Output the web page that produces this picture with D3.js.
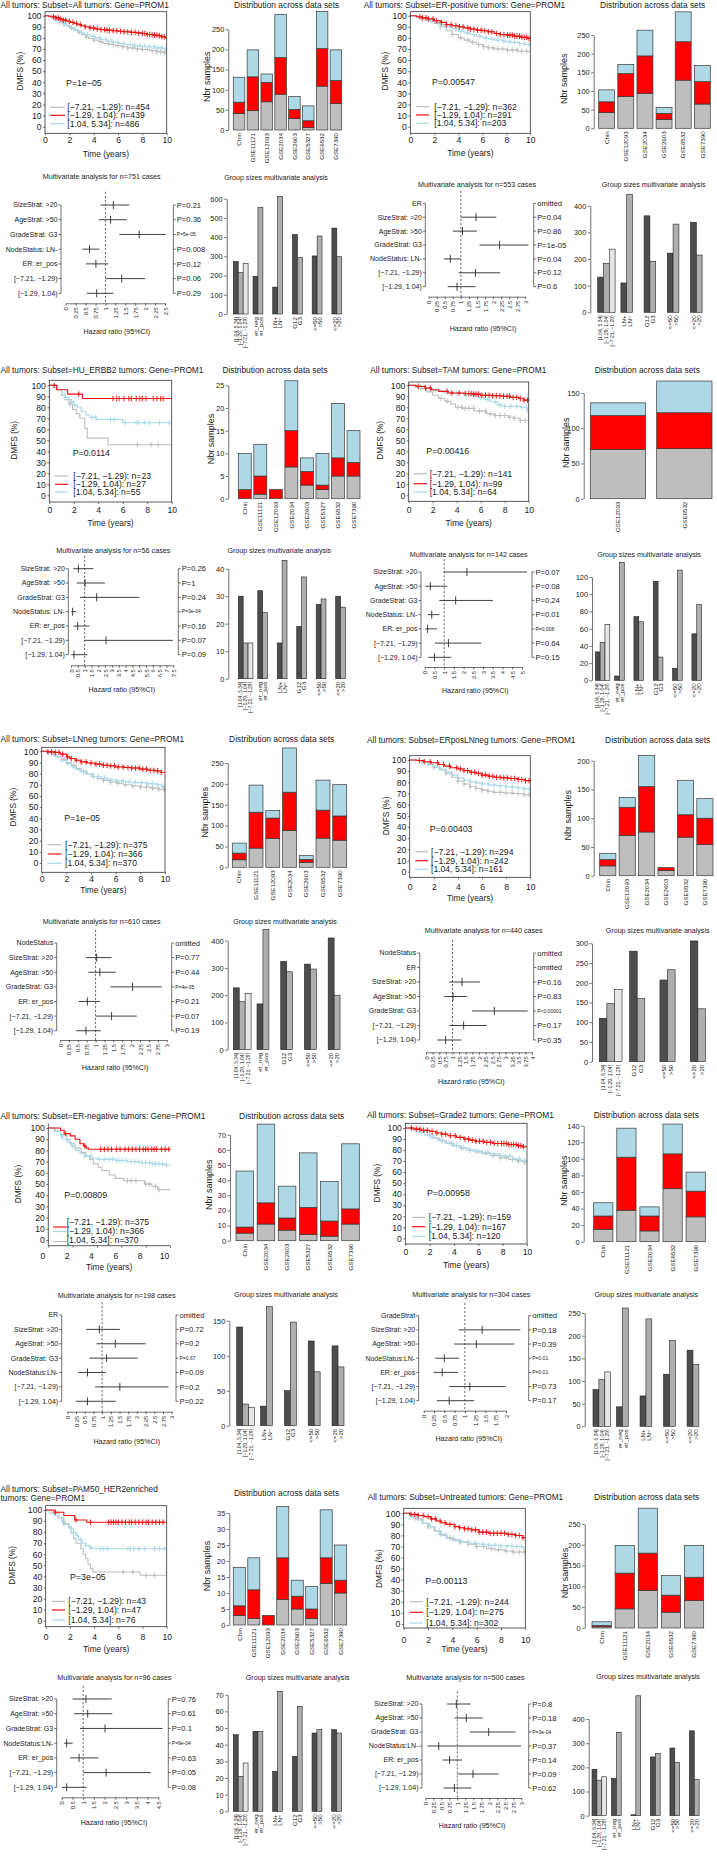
<!DOCTYPE html>
<html><head><meta charset="utf-8">
<script src="https://cdn.jsdelivr.net/npm/d3@7"></script>
<style>
body{margin:0;background:#fff}
svg{display:block}
text{font-family:"Liberation Sans",Arial,Helvetica,sans-serif;fill:#1a1a1a}
</style></head>
<body><svg id="c" width="717" height="1858"></svg>
<script>
// ================= DATA =================
const kmTitles = [
 "All tumors: Subset=All tumors: Gene=PROM1",
 "All tumors: Subset=ER-positive tumors: Gene=PROM1",
 "All tumors: Subset=HU_ERBB2 tumors: Gene=PROM1",
 "All tumors: Subset=TAM tumors: Gene=PROM1",
 "All tumors: Subset=LNneg tumors: Gene=PROM1",
 "All tumors: Subset=ERposLNneg tumors: Gene=PROM1",
 "All tumors: Subset=ER-negative tumors: Gene=PROM1",
 "All tumors: Subset=Grade2 tumors: Gene=PROM1",
 "All tumors: Subset=PAM50_HER2enriched\ntumors: Gene=PROM1",
 "All tumors: Subset=Untreated tumors: Gene=PROM1"
];
const kmPValues = ["P=1e\u221205","P=0.00547","P=0.0114","P=0.00416","P=1e\u221205","P=0.00403","P=0.00809","P=0.00958","P=3e\u221205","P=0.00113"];
const groupNames = ["[\u22127.21, \u22121.29)","[\u22121.29, 1.04)","[1.04, 5.34]"];
const kmN = [[454,439,486],[362,291,203],[23,27,55],[141,99,64],[375,366,370],[294,242,161],[375,366,370],[159,167,120],[43,47,76],[244,275,302]];

const kmGrey = [
 [[0,100],[0.3,99],[0.6,98],[0.9,96.5],[1.2,95],[1.5,93],[1.8,91],[2.1,89],[2.4,87],[2.7,85],[3.0,83],[3.3,81],[3.6,79.5],[4.0,78],[4.4,76.5],[4.8,75],[5.3,74],[5.8,73],[6.3,72],[6.8,71],[7.4,70],[8.0,69.5],[8.6,68.5],[9.2,67.5],[9.8,66.5]],
 [[0,100],[0.5,98.5],[1,97],[1.5,95],[2,93],[2.5,90],[3,86.5],[3.5,83],[4,80],[4.5,78],[5,76],[5.5,74],[6,72],[6.5,71],[7,70],[8,69],[9,68],[9.8,67.5]],
 [[0,100],[0.7,96],[1.0,91],[1.3,87],[1.6,83],[1.9,78],[2.2,74],[2.5,70],[2.9,61],[3.1,52],[4.8,46]],
 [[0,100],[0.6,98.5],[1.0,97],[1.5,94],[2.0,91],[2.5,88],[3.0,85.5],[3.5,83],[3.9,80],[4.5,79],[5.5,76.5],[6.5,74],[7.2,72.5],[8.3,71],[8.8,70],[9.3,68]],
 [[0,100],[0.4,99],[0.8,97.5],[1.2,95.5],[1.6,93],[2.0,90],[2.4,87.5],[2.8,84.5],[3.2,82],[3.6,79.5],[4.0,77.5],[4.5,75.5],[5.0,74],[5.5,72.5],[6.0,71.5],[6.6,70],[7.3,69],[8.0,68],[8.8,67],[9.5,66]],
 [[0,100],[0.5,99.5],[1.0,98],[1.5,96],[2.0,93.5],[2.5,91],[3.0,88],[3.5,84.5],[4.0,81],[4.5,78.5],[5.0,76],[5.5,74.5],[6.0,73],[6.5,72],[7.0,71],[7.8,70.5],[8.6,70],[9.4,69]],
 [[0,100],[0.5,97],[1.0,94],[1.5,90],[1.8,86],[2.2,82],[2.7,78],[3.1,75],[3.4,72],[3.7,68],[4.1,65],[4.4,62],[5.0,58],[5.5,55],[6.2,53],[7.9,50],[8.5,48],[9.0,45]],
 [[0,100],[0.6,99],[1.2,97],[1.8,94],[2.3,91],[2.8,88.5],[3.4,86],[4.0,84],[4.5,82],[5.0,80],[5.6,78.5],[6.3,77],[7.0,75],[7.8,73],[8.5,71.5],[9.2,70],[9.8,69]],
 [[0,100],[0.5,97],[1.1,93],[1.5,88],[1.9,84],[2.1,79],[2.3,74],[2.5,70],[2.9,65],[3.1,60],[3.3,56],[3.5,51],[3.7,47],[3.9,44],[7.8,41]],
 [[0,100],[0.5,98],[1.0,95],[1.5,91],[2.0,88],[2.5,84],[3.0,81],[3.5,78],[4.0,76],[4.6,74],[5.3,72],[6.0,70],[6.8,68],[7.5,67],[8.3,66],[9.0,65]]
];
const kmRed = [
 [[0,100],[0.3,99.5],[0.6,99],[0.9,98],[1.2,97],[1.5,96],[1.8,95],[2.1,94],[2.4,93],[2.7,92],[3.0,91],[3.3,90],[3.7,89],[4.1,88],[4.6,87.5],[5.0,87],[5.5,86.5],[6.0,86],[6.5,85.5],[7.0,85],[7.5,84.5],[8.0,84],[8.4,83],[8.9,82.5],[9.3,82],[9.6,81],[9.9,80]],
 [[0,100],[0.5,99],[1,98],[1.5,97],[2,95.5],[2.5,94],[3,92],[3.5,91],[4,90],[4.5,89],[5,88],[5.5,87],[6,86.5],[6.5,85.5],[7,84],[7.5,83],[8,82.5],[8.7,81.5],[9.3,80.5],[9.8,79.5]],
 [[0,100],[0.6,96],[1.5,92],[2.7,88]],
 [[0,100],[0.6,99],[1.4,97.5],[1.9,96],[2.5,94.5],[3.3,93],[4.6,92.5],[5.3,92],[6.0,91],[7.0,90.5],[7.8,90],[8.5,89],[9.2,88],[9.6,86.5]],
 [[0,100],[0.5,99.5],[1,99],[1.5,97.5],[2,95],[2.3,93.5],[2.7,92],[3.2,90.5],[3.7,89.5],[4.3,88.5],[4.9,87.5],[5.5,87],[6.0,86],[6.7,85.5],[7.3,85],[8.0,84],[8.6,83],[9.2,82.5],[9.7,81]],
 [[0,100],[0.6,99.5],[1.2,98.5],[1.8,97.5],[2.4,96],[2.9,94.5],[3.4,93],[4.0,92],[4.5,90.5],[5.0,89],[5.5,88],[6.0,86.5],[6.5,85.5],[7.0,84.5],[7.6,84],[8.2,83.5],[9.0,82.5],[9.6,81.5]],
 [[0,100],[1.0,98],[1.3,95],[1.8,93],[2.2,90],[2.6,86],[2.9,84],[3.1,82],[3.3,81]],
 [[0,100],[0.7,99],[1.3,98],[2.0,97],[2.5,95.5],[3.0,94.5],[3.5,93],[4.2,91.5],[4.8,90],[5.3,89],[5.8,88],[6.5,87],[7.2,86],[8.5,85],[9.2,84],[9.6,83]],
 [[0,100],[0.7,98],[1.5,95],[2.4,91],[3.4,89]],
 [[0,100],[0.5,99],[1.2,98],[1.7,97],[2.2,95],[2.7,93],[3.1,91.5],[3.5,90],[4.2,88],[4.6,87],[5.0,86],[5.6,85],[6.2,83],[7.0,82],[8.5,81],[9.2,80],[9.8,78]]
];
const kmBlue = [
 [[0,100],[0.3,99],[0.6,97.5],[0.9,96],[1.2,94],[1.5,92.5],[1.8,90.5],[2.1,89],[2.4,87.5],[2.7,86],[3.0,84.5],[3.3,83],[3.7,81.5],[4.1,80],[4.6,78.5],[5.1,77],[5.6,76],[6.1,75],[6.7,74],[7.3,73],[7.9,72.5],[8.5,72],[9.1,71],[9.7,70]],
 [[0,100],[0.5,99],[1,98],[1.5,96],[2,94],[2.5,92],[3,90],[3.5,88],[4,86],[4.5,84.5],[5,83],[5.5,81.5],[6,80],[6.5,79],[7,78],[7.7,77],[8.3,76],[9,75],[9.6,74]],
 [[0,100],[0.3,98],[0.7,96],[1.0,93],[1.3,89],[1.6,87],[1.8,85],[2.0,82],[2.3,80],[2.6,76],[3.0,73],[3.3,71],[3.9,69],[6.0,66]],
 [[0,100],[0.7,98.5],[1.3,97],[2.0,95.5],[2.8,94],[3.6,92.5],[4.5,91.5],[5.2,91],[5.8,89],[6.3,87],[6.8,85],[7.4,82],[7.8,81],[9.3,80],[9.9,76]],
 [[0,100],[0.4,99],[0.8,97],[1.2,95],[1.6,92],[2.0,89],[2.4,86],[2.8,83.5],[3.2,81.5],[3.7,79.5],[4.2,77.5],[4.8,76],[5.4,74.5],[6.0,73.5],[6.8,72.5],[7.6,72],[8.5,71],[9.3,70],[9.8,69]],
 [[0,100],[0.5,99.5],[1.0,98],[1.5,96.5],[2.0,94.5],[2.5,92],[3.0,89.5],[3.5,86.5],[4.0,84],[4.5,82],[5.0,80.5],[5.5,79.5],[6.0,78.5],[6.6,77.5],[7.3,77],[8.0,76],[8.8,75],[9.5,74]],
 [[0,100],[0.6,97],[1.0,93],[1.2,90],[1.6,87],[1.9,84],[2.2,80],[2.6,77],[3.0,75],[3.6,73],[4.0,72],[5.5,71],[6.5,70],[7.5,69],[8.5,68],[9.5,67]],
 [[0,100],[0.5,98.5],[1.0,96.5],[1.6,93.5],[2.0,91.5],[2.6,89],[3.2,86.5],[3.9,84],[4.5,82],[5.1,80],[5.6,79],[6.2,78],[7.0,76.5],[7.8,74.5],[8.8,72],[9.5,70.5]],
 [[0,100],[0.3,97],[0.7,95],[1.0,93],[1.3,90],[1.6,87],[1.9,85],[2.1,83],[2.3,80],[2.5,77],[2.7,73],[3.0,70],[3.3,68],[3.6,66],[3.9,65]],
 [[0,100],[0.6,97],[1.1,94],[1.6,91],[2.1,88],[2.6,84],[3.1,80],[3.6,77],[4.2,75],[4.8,74],[5.5,73],[6.2,72],[7.0,71],[8.0,70.5],[9.0,70],[9.8,69]]
];
const cenGrey = [
 [1.5,2.2,2.8,3.4,4.0,4.6,5.2,5.6,6.0,6.4,6.8,7.2,7.6,8.0,8.4,8.8,9.2,9.5,9.8],
 [2.5,3.5,4.2,4.8,5.2,5.7,6.1,6.5,6.9,7.3,7.7,8.1,8.5,8.9,9.3,9.7],
 [1.7,7.2,8.3,8.9],
 [1.0,2.7,3.2,4.1,4.4,4.7,5.0,5.4,5.9,6.4,6.8,7.2,7.6,8.0,8.4,8.8,9.3,9.7],
 [1.0,1.8,2.6,3.4,4.2,5.0,5.6,6.2,6.8,7.4,8.0,8.5,9.0,9.5,9.9],
 [2.0,3.0,4.0,4.5,5.0,5.5,6.0,6.5,7.0,7.5,8.0,8.5,9.0,9.5,9.9],
 [6.5,6.8,7.2,8.0,8.3,8.8,9.1],
 [1.0,2.0,3.0,3.8,4.6,5.3,6.0,6.6,7.2,7.8,8.3,8.8,9.3,9.8],
 [1.5,6.4,7.2,8.3,9.0],
 [1.0,2.0,3.0,3.8,4.6,5.3,6.0,6.6,7.2,7.8,8.4,9.0,9.5,9.9]
];
const cenRed = [
 [0.7,0.9,1.1,1.3,1.5,1.7,2.0,2.3,2.6,2.9,3.3,3.7,4.0,4.3,4.6,4.9,5.1,5.3,5.6,5.9,6.2,6.5,6.8,7.1,7.4,7.7,8.0,8.2,8.4,8.6,8.8,9.0,9.2,9.4,9.6,9.8],
 [0.8,1.0,1.3,1.5,1.9,2.2,2.6,3.0,3.4,3.8,4.1,4.4,4.8,5.0,5.3,5.6,5.9,6.2,6.5,6.8,7.2,7.5,7.8,8.1,8.3,8.5,8.7,8.9,9.1,9.3,9.5,9.7,9.9],
 [0.4,2.4,5.2,5.5,5.7,6.1,6.5,6.7,7.1,7.4,7.6,7.9,8.5,8.8,9.1,9.3],
 [0.8,1.4,1.8,3.2,3.6,4.2,4.7,5.0,5.2,5.4,5.6,5.8,6.1,6.4,6.7,7.0,7.3,7.6,7.9,8.2,8.4,8.7,9.0,9.3,9.6,9.9],
 [0.5,0.8,1.1,1.4,1.7,2.1,2.4,2.8,3.2,3.6,4.0,4.4,4.7,5.0,5.3,5.6,5.9,6.2,6.6,7.0,7.3,7.6,7.9,8.2,8.5,8.8,9.1,9.4,9.7],
 [0.8,1.2,1.7,2.3,2.8,3.3,3.9,4.2,4.5,4.8,5.1,5.4,5.7,6.0,6.3,6.6,6.9,7.2,7.5,7.8,8.1,8.4,8.7,9.0,9.3,9.6,9.9],
 [1.4,3.0,4.3,4.6,4.9,5.2,5.6,5.9,6.3,6.6,6.9,7.2,7.5,7.8,8.0,8.2,8.5,8.7,8.9,9.3,9.6,9.9],
 [0.5,0.9,1.2,1.5,1.8,2.2,2.6,3.0,3.3,3.7,4.1,4.5,4.9,5.2,5.5,5.8,6.1,6.4,6.7,7.0,7.3,7.6,7.9,8.1,8.3,8.5,8.7,8.9,9.1,9.3,9.5,9.7],
 [0.8,2.5,3.7,5.2,5.4,5.6,5.8,6.0,6.3,6.6,6.9,7.1,7.4,7.7,8.0,8.3,8.5,8.8,9.1,9.4,9.7],
 [0.6,0.9,1.2,1.6,2.0,2.3,2.6,3.0,3.4,3.8,4.2,4.6,5.0,5.3,5.6,5.9,6.2,6.5,6.8,7.1,7.4,7.7,8.0,8.3,8.6,8.9,9.2,9.5,9.8]
];
const cenBlue = [
 [0.5,0.8,1.2,1.6,2.0,2.5,3.0,3.5,4.0,4.5,5.0,5.5,6.0,6.5,7.0,7.4,7.8,8.2,8.6,9.0,9.3,9.6,9.9],
 [0.6,1.0,1.4,1.8,2.3,2.8,3.3,3.8,4.3,4.8,5.3,5.8,6.3,6.8,7.3,7.8,8.3,8.7,9.1,9.5,9.9],
 [1.3,1.8,2.1,3.5,3.8,5.0,5.3,6.2,7.1,7.3,7.8,8.2,9.0,9.8],
 [1.0,2.2,3.0,4.0,4.8,5.5,6.0,6.6,7.2,7.6,8.0,8.5,9.0,9.4,9.8],
 [0.6,1.1,1.6,2.1,2.6,3.1,3.6,4.1,4.6,5.1,5.6,6.1,6.6,7.1,7.6,8.1,8.6,9.0,9.4,9.8],
 [0.5,1.0,1.5,2.0,2.5,3.0,3.5,4.0,4.5,5.0,5.5,6.0,6.5,7.0,7.5,8.0,8.5,9.0,9.5,9.9],
 [1.1,1.5,2.0,3.0,3.5,4.2,4.6,5.0,5.3,5.6,5.8,6.1,6.4,6.8,7.1,7.4,7.7,8.0,8.3,8.6,8.8,9.1,9.4,9.7],
 [0.7,1.3,2.2,3.0,3.6,4.2,4.8,5.3,5.8,6.3,6.8,7.3,7.8,8.2,8.6,9.0,9.4,9.8],
 [1.4,2.0,2.3,2.6,2.9,3.3,3.7,4.5,4.8,5.1,6.8,7.0,7.3,7.7,8.2,9.0,9.4,9.8],
 [0.8,1.5,2.2,2.9,3.5,4.1,4.7,5.3,5.9,6.5,7.0,7.5,8.0,8.5,8.9,9.3,9.7]
];

// Distribution across data sets
const dsNames = [
 ["Chin","GSE11121","GSE12093","GSE2034","GSE2603","GSE5327","GSE6532","GSE7390"],
 ["Chin","GSE12093","GSE2034","GSE2603","GSE6532","GSE7390"],
 ["Chin","GSE11121","GSE12093","GSE2034","GSE2603","GSE5327","GSE6532","GSE7390"],
 ["GSE12093","GSE6532"],
 ["Chin","GSE11121","GSE12093","GSE2034","GSE2603","GSE6532","GSE7390"],
 ["Chin","GSE12093","GSE2034","GSE2603","GSE6532","GSE7390"],
 ["Chin","GSE2034","GSE2603","GSE5327","GSE6532","GSE7390"],
 ["Chin","GSE11121","GSE2034","GSE6532","GSE7390"],
 ["Chin","GSE11121","GSE12093","GSE2034","GSE2603","GSE5327","GSE6532","GSE7390"],
 ["Chin","GSE11121","GSE2034","GSE6532","GSE7390"]
];
const dsGrey = [[41,48,70,89,29,6,109,66],[42,85,94,24,129,65],[0,1,0,7,3,2,5,5],[70,71],[18,46,69,88,12,70,65],[17,70,76,9,67,54],[5,11,7,4,3,11],[15,38,13,64,30],[3,2,0,8,5,2,13,10],[3,46,90,38,66]];
const dsRed  = [[28,84,48,91,22,17,93,57],[29,62,100,16,103,60],[2,4,2,8,3,1,4,3],[48,51],[16,86,49,92,7,67,58],[11,49,79,5,39,46],[4,14,8,18,10,10],[16,64,18,42,31],[3,9,3,13,4,3,8,4],[3,86,90,41,56]];
const dsBlue = [[62,67,21,107,32,37,92,76],[32,24,69,16,80,43],[8,7,0,11,3,7,12,7],[18,45],[24,65,18,106,9,72,75],[11,17,54,0,60,34],[37,52,21,36,26,43],[16,35,11,36,23],[12,10,0,16,5,7,15,11],[9,66,108,47,76]];

// Multivariate analysis (forest)
const fRowsStd = ["SizeStrat: >20","AgeStrat: >50","GradeStrat: G3","NodeStatus: LN-","ER: er_pos","[\u22127.21, \u22121.29)","[\u22121.29, 1.04)"];
const fRows = [
 fRowsStd,
 ["ER","SizeStrat: >20","AgeStrat: >50","GradeStrat: G3","NodeStatus: LN-","[\u22127.21, \u22121.29)","[\u22121.29, 1.04)"],
 fRowsStd,
 fRowsStd,
 ["NodeStatus","SizeStrat: >20","AgeStrat: >50","GradeStrat: G3","ER: er_pos","[\u22127.21, \u22121.29)","[\u22121.29, 1.04)"],
 ["NodeStatus","ER","SizeStrat: >20","AgeStrat: >50","GradeStrat: G3","[\u22127.21, \u22121.29)","[\u22121.29, 1.04)"],
 ["ER","SizeStrat: >20","AgeStrat: >50","GradeStrat: G3","NodeStatus:LN-","[\u22127.21, \u22121.29)","[\u22121.29, 1.04)"],
 ["GradeStrat","SizeStrat: >20","AgeStrat: >50","NodeStatus:LN-","ER: er_pos","[\u22127.21, \u22121.29)","[\u22121.29, 1.04)"],
 ["SizeStrat: >20","AgeStrat: >50","GradeStrat: G3","NodeStatus:LN-","ER: er_pos","[\u22127.21, \u22121.29)","[\u22121.29, 1.04)"],
 ["SizeStrat: >20","AgeStrat: >50","GradeStrat: G3","NodeStatus:LN-","ER: er_pos","[\u22127.21, \u22121.29)","[\u22121.29, 1.04)"]
];
// [hazard ratio, lower 95%, upper 95%]; null = omitted
const fHR = [
 [[1.20,0.88,1.60],[1.13,0.83,1.54],[1.85,1.35,2.52],[0.60,0.42,0.85],[0.76,0.51,1.07],[1.41,1.00,2.00],[0.78,0.53,1.20]],
 [null,[1.47,1.0,2.10],[1.05,0.75,1.50],[2.20,1.58,3.10],[0.67,0.47,1.0],[1.45,0.93,2.22],[0.88,0.59,1.45]],
 [[0.54,0.17,1.64],[1.03,0.42,2.49],[1.88,0.66,5.01],[0.12,0.02,0.37],[0.49,0.17,1.34],[2.57,0.98,7.46],[0.22,0.02,1.2]],
 [[2.17,0.98,5.26],[0.29,0.03,1.15],[1.59,0.75,3.51],[0.36,0.15,0.75],[0.15,0.03,0.63],[1.22,0.53,2.91],[0.5,0.19,1.35]],
 [null,[1.03,0.73,1.45],[1.12,0.80,1.57],[2.04,1.42,2.86],[0.77,0.52,1.12],[1.45,1.0,2.16],[0.73,0.46,1.15]],
 [null,null,[1.36,0.88,2.03],[1.02,0.69,1.55],[2.58,1.74,3.84],[1.42,0.88,2.30],[0.74,0.42,1.33]],
 [null,[0.92,0.54,1.51],[1.38,0.84,2.25],[1.13,0.63,2.02],[0.58,0.32,1.10],[1.51,0.80,2.91],[0.58,0.25,1.39]],
 [null,[1.42,0.85,2.35],[1.28,0.74,2.20],[0.50,0.28,0.86],[0.45,0.24,0.84],[1.12,0.62,1.99],[0.62,0.32,1.23]],
 [[1.13,0.51,2.33],[1.21,0.57,2.36],[2.02,0.85,4.70],[0.23,0.11,0.51],[0.81,0.39,1.71],[2.07,1.01,4.15],[0.23,0.0,1.16]],
 [[0.97,0.68,1.41],[1.28,0.92,1.80],[1.98,1.39,2.82],[0.42,0.07,2.99],[0.76,0.54,1.15],[1.49,1.01,2.29],[0.91,0.57,1.44]]
];
const fP = [
 ["P=0.21","P=0.36","P=5e-05","P=0.008","P=0.12","P=0.06","P=0.29"],
 ["omitted","P=0.04","P=0.86","P=1e-05","P=0.04","P=0.12","P=0.6"],
 ["P=0.26","P=1","P=0.24","P=3e-04","P=0.16","P=0.07","P=0.09"],
 ["P=0.07","P=0.08","P=0.24","P=0.01","P=0.008","P=0.64","P=0.15"],
 ["omitted","P=0.77","P=0.44","P=4e-05","P=0.21","P=0.07","P=0.19"],
 ["omitted","omitted","P=0.16","P=0.83","P<0.00001","P=0.17","P=0.35"],
 ["omitted","P=0.72","P=0.2","P=0.67","P=0.09","P=0.2","P=0.22"],
 ["omitted","P=0.18","P=0.39","P=0.01","P=0.01","P=0.73","P=0.17"],
 ["P=0.76","P=0.61","P=0.1","P=9e-04","P=0.63","P=0.05","P=0.08"],
 ["P=0.8","P=0.18","P=3e-04","P=0.37","P=0.14","P=0.09","P=0.62"]
];
const fPSmall = [[2],[],[3],[4],[3],[4],[3],[3,4],[3],[2]];
const fCases = [751,553,56,142,610,440,198,304,96,500];

// Group sizes multivariate analysis
const gsExprLabels = ["[1.04, 5.34]","[\u22121.29, 1.04)","[\u22127.21, \u22121.29)"];
const gsERLabels = ["er_neg","er_pos"];
const gsLNLabels = ["LN+","LN\u2212"];
const gsGradeLabels = ["G12","G3"];
const gsAgeLabels = ["<=50",">50"];
const gsSizeLabels = ["<=20",">20"];
const gsVars = [
 ["expr","ER","LN","Grade","Age","Size"],
 ["expr","LN","Grade","Age","Size"],
 ["expr","ER","LN","Grade","Age","Size"],
 ["expr","ER","LN","Grade","Age","Size"],
 ["expr","ER","Grade","Age","Size"],
 ["expr","Grade","Age","Size"],
 ["expr","LN","Grade","Age","Size"],
 ["expr","ER","LN","Age","Size"],
 ["expr","ER","LN","Grade","Age","Size"],
 ["expr","ER","LN","Grade","Age","Size"]
];
const gsVals = [
 [[274,215,262],[196,555],[140,611],[413,293],[302,406],[447,298]],
 [[132,184,237],[110,443],[362,191],[222,331],[338,215]],
 [[30,13,13],[32,24],[13,43],[19,37],[27,29],[30,26]],
 [[33,44,65],[5,137],[74,68],[115,27],[14,128],[54,88]],
 [[227,176,207],[168,442],[324,286],[314,296],[410,200]],
 [[110,147,183],[280,160],[207,233],[306,134]],
 [[141,31,26],[28,170],[50,148],[121,77],[114,84]],
 [[81,103,120],[43,261],[67,237],[115,189],[168,136]],
 [[46,21,29],[48,48],[24,72],[33,63],[47,49],[49,47]],
 [[192,147,161],[155,345],[4,496],[243,257],[280,220],[351,149]]
];

// ================= LAYOUT / STYLE =================
const kmLayout = [
 {xL:45,xR:166.7,y100:15.7,y0:126.7,bT:11.7,bB:133.3,tX:0.5,tY:5,legY:[107.3,115.3,123.7],lx0:50,lx1:65,ltX:67.3,pX:66,pY:82.7,xtY:140,timeY:154,dmfsX:20},
 {xL:410.3,xR:530.3,y100:15.7,y0:126.7,bT:11.7,bB:133.3,tX:363.7,tY:5,legY:[106.7,115,123.3],lx0:416,lx1:429,ltX:434.3,pX:432,pY:81.7,xtY:140,timeY:153.3,dmfsX:385.3},
 {xL:49.3,xR:171.7,y100:385.3,y0:495.3,bT:380.3,bB:502,tX:0.5,tY:370,legY:[476,484.3,492],lx0:55,lx1:68.3,ltX:73.3,pX:72.7,pY:453,xtY:510.3,timeY:522.7,dmfsX:14},
 {xL:408.7,xR:528.7,y100:385.3,y0:495.3,bT:382,bB:501.3,tX:370.3,tY:370,legY:[473.7,483.7,492],lx0:413.7,lx1:427,ltX:429.7,pX:426.3,pY:451,xtY:510.3,timeY:522.7,dmfsX:380.3},
 {xL:41.7,xR:165,y100:751.3,y0:863,bT:747.3,bB:872.3,tX:0.5,tY:739,legY:[844.7,854,863.3],lx0:47.7,lx1:61.7,ltX:65,pX:64.3,pY:818,xtY:879,timeY:889.7,dmfsX:13.3},
 {xL:409.7,xR:530.3,y100:760,y0:871.7,bT:755.7,bB:877.3,tX:367,tY:740.3,legY:[851.7,860.7,869.3],lx0:415.3,lx1:428,ltX:431,pX:429.7,pY:829,xtY:886.7,timeY:898.3,dmfsX:386.3},
 {xL:48.3,xR:170,y100:1128,y0:1240,bT:1123.3,bB:1245.7,tX:0.5,tY:1116.5,legY:[1221.7,1230.7,1240],lx0:53.3,lx1:66.7,ltX:66.7,pX:64.3,pY:1195,xtY:1255.7,timeY:1267.3,dmfsX:18.3,noBox:true,tickShift:-6,legLineY:[1227,1231.5,1241.5],legColors:["red","blue","grey"]},
 {xL:405.3,xR:527,y100:1128,y0:1238.3,bT:1123.3,bB:1244,tX:367,tY:1115.5,legY:[1217.3,1226.7,1236.3],lx0:412,lx1:425.3,ltX:428.7,pX:427,pY:1193.3,xtY:1252.3,timeY:1264.7,dmfsX:377},
 {xL:45.7,xR:166.7,y100:1510,y0:1620.7,bT:1505.7,bB:1626.7,tX:0.5,tY:1489,legY:[1601.3,1610,1620],lx0:51.7,lx1:65,ltX:68.3,pX:70,pY:1577.3,xtY:1637.3,timeY:1649,dmfsX:11.7},
 {xL:403.7,xR:525.3,y100:1513.3,y0:1624,bT:1508.3,bB:1628,tX:367.7,tY:1496.7,legY:[1601.7,1612.3,1623],lx0:409.7,lx1:423,ltX:426.3,pX:425.3,pY:1581.3,xtY:1639.7,timeY:1649,dmfsX:378.7}
];
const distLayout = [
 {axX:228.3,barL:233.3,barR:341.7,y0:130,yRef:29.3,refVal:250,step:50,tX:286.7,tY:5,nbrX:206.7},
 {axX:593.7,barL:598.7,barR:710.3,y0:128.3,yRef:35,refVal:250,step:50,tX:652.7,tY:5,nbrX:563.7},
 {axX:228.3,barL:238.3,barR:360,y0:498.7,yRef:385.3,refVal:25,step:5,tX:275,tY:370,nbrX:210.7},
 {axX:583.7,barL:590.3,barR:712,y0:498.7,yRef:393,refVal:150,step:50,tX:647.3,tY:370,nbrX:566.3},
 {axX:227.7,barL:232.3,barR:346.7,y0:867.3,yRef:763,refVal:250,step:50,tX:281.7,tY:739,nbrX:205},
 {axX:593.7,barL:599.7,barR:713,y0:875.7,yRef:760.7,refVal:200,step:50,tX:657.7,tY:740.3,nbrX:567.7},
 {axX:230,barL:236,barR:359.3,y0:1240.7,yRef:1134.7,refVal:70,step:10,tX:291.7,tY:1116.5,nbrX:209.3},
 {axX:583.7,barL:593.7,barR:705.3,y0:1241.7,yRef:1125.7,refVal:140,step:20,tX:646.3,tY:1115.5,nbrX:563.7},
 {axX:229.3,barL:233.3,barR:346.7,y0:1625,yRef:1513,refVal:35,step:5,tX:286.5,tY:1493.3,nbrX:207.3},
 {axX:584.7,barL:592,barR:703.7,y0:1628,yRef:1524,refVal:250,step:50,tX:646.7,tY:1496.7,nbrX:564.7}
];
const forestLayout = [
 {axL:61,axR:173.3,row0:205,rowStep:14.72,xAxY:303.3,hr0:65.7,hrMax:2.5,hrMaxPx:165,step:0.25,tX:101.7,tY:176.7,hX:116.7,hY:331.7},
 {axL:425.3,axR:533.7,row0:203.3,rowStep:13.9,xAxY:296.7,hr0:428.7,hrMax:3,hrMaxPx:525.3,step:0.25,tX:477,tY:184.3,hX:483,hY:328.3},
 {axL:68.3,axR:178.3,row0:568.7,rowStep:14.33,xAxY:665.3,hr0:71,hrMax:7.5,hrMaxPx:173.3,step:0.5,tX:113.3,tY:550.7,hX:121.7,hY:689.3},
 {axL:421,axR:532,row0:572,rowStep:14.22,xAxY:667,hr0:424.7,hrMax:5,hrMaxPx:522,step:0.5,tX:468.7,tY:554.7,hX:475.3,hY:690.3},
 {axL:56.7,axR:171.7,row0:943,rowStep:14.62,xAxY:1040,hr0:60,hrMax:3,hrMaxPx:166.7,step:0.25,tX:101.7,tY:921.3,hX:115,hY:1067.3},
 {axL:419.7,axR:533.7,row0:953,rowStep:14.5,xAxY:1052.3,hr0:426,hrMax:4,hrMaxPx:532,step:0.25,tX:483.7,tY:930.7,hX:471.3,hY:1081.3},
 {axL:61.7,axR:176,row0:1315,rowStep:14.38,xAxY:1411.7,hr0:67.3,hrMax:3,hrMaxPx:171.7,step:0.25,tX:116.7,tY:1295.7,hX:126.7,hY:1441.3},
 {axL:418.7,axR:528.7,row0:1315.7,rowStep:14.17,xAxY:1410.7,hr0:423.7,hrMax:2,hrMaxPx:506,step:0.25,tX:471.3,tY:1294.7,hX:468.7,hY:1439},
 {axL:56.7,axR:168.3,row0:1699,rowStep:14.72,xAxY:1797.3,hr0:61.7,hrMax:4.5,hrMaxPx:158.3,step:0.5,tX:114.3,tY:1677.3,hX:114,hY:1822.3},
 {axL:422,axR:528.7,row0:1704,rowStep:14,xAxY:1798,hr0:425.3,hrMax:3,hrMaxPx:521.3,step:0.25,tX:465.3,tY:1677.3,hX:472,hY:1825.7}
];
const gsLayout = [
 {axX:226.7,barL:233.3,unit:4.93,y0:314,yRef:198.7,refVal:600,step:100,tX:276,tY:177.3},
 {axX:590.3,barL:597.7,unit:5.8,y0:312.3,yRef:205.7,refVal:400,step:100,tX:653.7,tY:184.3},
 {axX:228.3,barL:238.3,unit:4.87,y0:678.7,yRef:568.7,refVal:40,step:10,tX:279.3,tY:550.7},
 {axX:592,barL:595.3,unit:4.83,y0:680.3,yRef:577,refVal:120,step:20,tX:649,tY:554.7},
 {axX:227.7,barL:233.3,unit:5.93,y0:1049.7,yRef:940.7,refVal:400,step:100,tX:285,tY:921.3},
 {axX:592,barL:599.3,unit:7.58,y0:1061.7,yRef:943.3,refVal:300,step:50,tX:657.7,tY:930.7},
 {axX:229.3,barL:236.7,unit:5.96,y0:1425.7,yRef:1320.7,refVal:150,step:50,tX:286,tY:1295},
 {axX:584.7,barL:593,unit:5.88,y0:1426.3,yRef:1313,refVal:250,step:50,tX:646.3,tY:1294.7},
 {axX:227.7,barL:233.3,unit:4.92,y0:1811.3,yRef:1694.7,refVal:70,step:10,tX:297.7,tY:1677.3},
 {axX:588.7,barL:592,unit:4.87,y0:1815.7,yRef:1719,refVal:400,step:100,tX:648,tY:1676.7}
];

const LINE_COL = {grey:"#bebebe", red:"#ee1111", blue:"#add8e6"};
const BAR_COL = {grey:"#bebebe", red:"#ff0000", blue:"#add8e6"};
const GS_COL = ["#4d4d4d","#aeaeae","#e6e6e6"];
const INK = "#1a1a1a", AXIS = "#333";
const FONT = '"Liberation Sans", Arial, Helvetica, sans-serif';

// ================= DRAWING =================
const svg = d3.select("#c");
svg.append("rect").attr("width",717).attr("height",1858).attr("fill","#fff");

function txt(g, x, y, s, size, anchor, rot) {
  const t = g.append("text").attr("font-size", size).attr("text-anchor", anchor || "start")
    .attr("dy", "0.35em").text(s);
  if (rot) t.attr("transform", `translate(${x},${y}) rotate(${rot})`);
  else t.attr("x", x).attr("y", y);
  return t;
}
function styleAxis(sel, size) {
  sel.attr("font-size", size).attr("font-family", FONT);
  sel.selectAll("line").attr("stroke", AXIS).attr("stroke-width", 0.7);
  sel.selectAll("path.domain").attr("stroke", AXIS).attr("stroke-width", 0.7);
  sel.selectAll("text").attr("fill", INK);
}
const gsLabelSets = {expr: gsExprLabels, ER: gsERLabels, LN: gsLNLabels, Grade: gsGradeLabels, Age: gsAgeLabels, Size: gsSizeLabels};

function drawKM(i) {
  const L = kmLayout[i], g = svg.append("g");
  const x = d3.scaleLinear().domain([0, 10]).range([L.xL, L.xR]);
  const y = d3.scaleLinear().domain([0, 100]).range([L.y0, L.y100]);
  kmTitles[i].split("\n").forEach((s, j) => txt(g, L.tX, L.tY + j * 9.3, s, 8.3));
  const line = d3.line().x(d => x(d[0])).y(d => y(d[1])).curve(d3.curveStepAfter);
  const series = [[kmGrey[i], cenGrey[i], "grey"], [kmBlue[i], cenBlue[i], "blue"], [kmRed[i], cenRed[i], "red"]];
  series.forEach(([steps, cens, key]) => {
    const col = LINE_COL[key];
    const pts = steps.concat([[10, steps[steps.length - 1][1]]]);
    g.append("path").attr("d", line(pts)).attr("fill", "none").attr("stroke", col).attr("stroke-width", 1.1);
    const surv = t => { let s = 100; steps.forEach(([tt, v]) => { if (tt <= t) s = v; }); return s; };
    cens.forEach(t => {
      const cx = x(t), cy = y(surv(t));
      g.append("path").attr("d", `M${cx - 1.8},${cy}H${cx + 1.8}M${cx},${cy - 2.8}V${cy + 2.8}`)
        .attr("stroke", col).attr("stroke-width", 0.95).attr("fill", "none");
    });
  });
  if (L.noBox) {
    g.append("path").attr("d", `M${L.xL},${L.bT}V${L.bB}H${L.xR}`).attr("fill","none").attr("stroke",AXIS).attr("stroke-width",0.8);
  } else {
    g.append("rect").attr("x", L.xL).attr("y", L.bT).attr("width", L.xR - L.xL).attr("height", L.bB - L.bT)
      .attr("fill", "none").attr("stroke", AXIS).attr("stroke-width", 0.8);
  }
  const ya = g.append("g").attr("transform", `translate(${L.xL},0)`)
    .call(d3.axisLeft(y).tickValues(d3.range(0, 101, 10)).tickSize(2).tickSizeOuter(0).tickPadding(1.5));
  styleAxis(ya, 8.6); ya.select("path.domain").remove();
  const xa = g.append("g").attr("transform", `translate(0,${L.bB})`)
    .call(d3.axisBottom(x).tickValues([0, 2, 4, 6, 8, 10]).tickSize(2).tickSizeOuter(0).tickPadding(0));
  styleAxis(xa, 8.6); xa.select("path.domain").remove();
  xa.selectAll("text").attr("dy", null).attr("y", L.xtY - L.bB).attr("dominant-baseline", "central");
  if (L.tickShift) xa.selectAll("text").attr("x", L.tickShift);
  txt(g, (L.xL + L.xR) / 2, L.timeY, "Time (years)", 8.3, "middle");
  txt(g, L.dmfsX, (L.y0 + L.y100) / 2, "DMFS (%)", 8.3, "middle", -90);
  txt(g, L.pX, L.pY, kmPValues[i], 8.8);
  const legCols = L.legColors || ["grey", "red", "blue"];
  groupNames.forEach((nm, k) => {
    const ly = L.legLineY ? L.legLineY[k] : L.legY[k];
    g.append("line").attr("x1", L.lx0).attr("x2", L.lx1).attr("y1", ly).attr("y2", ly)
      .attr("stroke", LINE_COL[legCols[k]]).attr("stroke-width", 1.2);
    txt(g, L.ltX, L.legY[k], `${nm}: n=${kmN[i][k]}`, 8.6);
  });
}

function drawDist(i) {
  const L = distLayout[i], g = svg.append("g");
  const sets = dsNames[i];
  const rows = sets.map((s, j) => ({set: s, grey: dsGrey[i][j], red: dsRed[i][j], blue: dsBlue[i][j]}));
  const xb = d3.scaleBand().domain(sets).range([L.barL, L.barR]).paddingInner(1 / 6).paddingOuter(0);
  const yb = d3.scaleLinear().domain([0, L.refVal]).range([L.y0, L.yRef]);
  const layers = d3.stack().keys(["grey", "red", "blue"])(rows);
  layers.forEach(layer => layer.forEach(d => {
    if (d[1] - d[0] <= 0) return;
    g.append("rect").attr("x", xb(d.data.set)).attr("width", xb.bandwidth())
      .attr("y", yb(d[1])).attr("height", yb(d[0]) - yb(d[1]))
      .attr("fill", BAR_COL[layer.key]).attr("stroke", "#3a3a3a").attr("stroke-width", 0.7);
  }));
  const ya = g.append("g").attr("transform", `translate(${L.axX},0)`)
    .call(d3.axisLeft(yb).tickValues(d3.range(0, L.refVal + 1e-9, L.step)).tickSize(2.5).tickSizeOuter(0).tickPadding(1.5));
  styleAxis(ya, 7.4);
  sets.forEach(s => txt(g, xb(s) + xb.bandwidth() / 2, L.y0 + 3, s, 6.2, "end", -90));
  txt(g, L.tX, L.tY, "Distribution across data sets", 8.4, "middle");
  txt(g, L.nbrX, (L.y0 + L.yRef) / 2 - 3, "Nbr samples", 9, "middle", -90);
}

function drawForest(i) {
  const L = forestLayout[i], g = svg.append("g");
  const rows = fRows[i];
  const xf = d3.scaleLinear().domain([0, L.hrMax]).range([L.hr0, L.hrMaxPx]);
  const yr = d3.scaleLinear().domain([0, 1]).range([L.row0, L.row0 + L.rowStep]);
  const last = rows.length - 1;
  txt(g, L.tX, L.tY, `Multivariate analysis for n=${fCases[i]} cases`, 7.2, "middle");
  g.append("line").attr("x1", xf(1)).attr("x2", xf(1)).attr("y1", yr(-0.9)).attr("y2", L.xAxY)
    .attr("stroke", "#444").attr("stroke-width", 0.8).attr("stroke-dasharray", "2.2,1.8");
  g.append("line").attr("x1", L.axL).attr("x2", L.axL).attr("y1", yr(0)).attr("y2", yr(last)).attr("stroke", AXIS).attr("stroke-width", 0.7);
  g.append("line").attr("x1", L.axR).attr("x2", L.axR).attr("y1", yr(0)).attr("y2", yr(last)).attr("stroke", AXIS).attr("stroke-width", 0.7);
  rows.forEach((r, k) => {
    const yy = yr(k);
    g.append("line").attr("x1", L.axL - 2.5).attr("x2", L.axL).attr("y1", yy).attr("y2", yy).attr("stroke", AXIS).attr("stroke-width", 0.7);
    g.append("line").attr("x1", L.axR).attr("x2", L.axR + 2.5).attr("y1", yy).attr("y2", yy).attr("stroke", AXIS).attr("stroke-width", 0.7);
    txt(g, L.axL - 3.5, yy, r, 7, "end");
    const small = fPSmall[i].includes(k);
    txt(g, L.axR + 3.5, yy, fP[i][k], small ? 5 : 7.6).attr("fill", small ? "#555" : INK);
    const hr = fHR[i][k];
    if (hr) {
      g.append("line").attr("x1", xf(hr[1])).attr("x2", xf(hr[2])).attr("y1", yy).attr("y2", yy)
        .attr("stroke", "#2a2a2a").attr("stroke-width", 0.9);
      g.append("line").attr("x1", xf(hr[0])).attr("x2", xf(hr[0])).attr("y1", yy - 4).attr("y2", yy + 4)
        .attr("stroke", "#2a2a2a").attr("stroke-width", 0.9);
    }
  });
  const xa = g.append("g").attr("transform", `translate(0,${L.xAxY})`)
    .call(d3.axisBottom(xf).tickValues(d3.range(0, L.hrMax + 1e-9, L.step)).tickSize(2.5).tickSizeOuter(0).tickFormat(d => String(+d.toFixed(2))));
  styleAxis(xa, 5.8);
  xa.selectAll("text").attr("dy", null).attr("y", null).attr("text-anchor", "end")
    .attr("dominant-baseline", "central").attr("transform", "translate(0,4) rotate(-90)");
  txt(g, L.hX, L.hY, "Hazard ratio (95%CI)", 7.1, "middle");
}

function drawGroups(i) {
  const L = gsLayout[i], g = svg.append("g");
  const xs = d3.scaleLinear().domain([0, 1]).range([L.barL, L.barL + L.unit]);
  const yg = d3.scaleLinear().domain([0, L.refVal]).range([L.y0, L.yRef]);
  gsVars[i].forEach((v, gi) => {
    const labels = gsLabelSets[v];
    gsVals[i][gi].forEach((val, k) => {
      const slot = gi * 4 + k;
      g.append("rect").attr("x", xs(slot)).attr("width", xs(slot + 1) - xs(slot))
        .attr("y", yg(val)).attr("height", yg(0) - yg(val))
        .attr("fill", GS_COL[k]).attr("stroke", "#222").attr("stroke-width", 0.6);
      txt(g, xs(slot + 0.5), L.y0 + 3, labels[k], v === "expr" ? 5 : 6.2, "end", -90);
    });
  });
  const ya = g.append("g").attr("transform", `translate(${L.axX},0)`)
    .call(d3.axisLeft(yg).tickValues(d3.range(0, L.refVal + 1e-9, L.step)).tickSize(2.5).tickSizeOuter(0).tickPadding(1.5));
  styleAxis(ya, 7.4);
  txt(g, L.tX, L.tY, "Group sizes multivariate analysis", 7.1, "middle");
}

for (let i = 0; i < 10; i++) { drawKM(i); drawDist(i); drawForest(i); drawGroups(i); }
</script>
</body></html>
